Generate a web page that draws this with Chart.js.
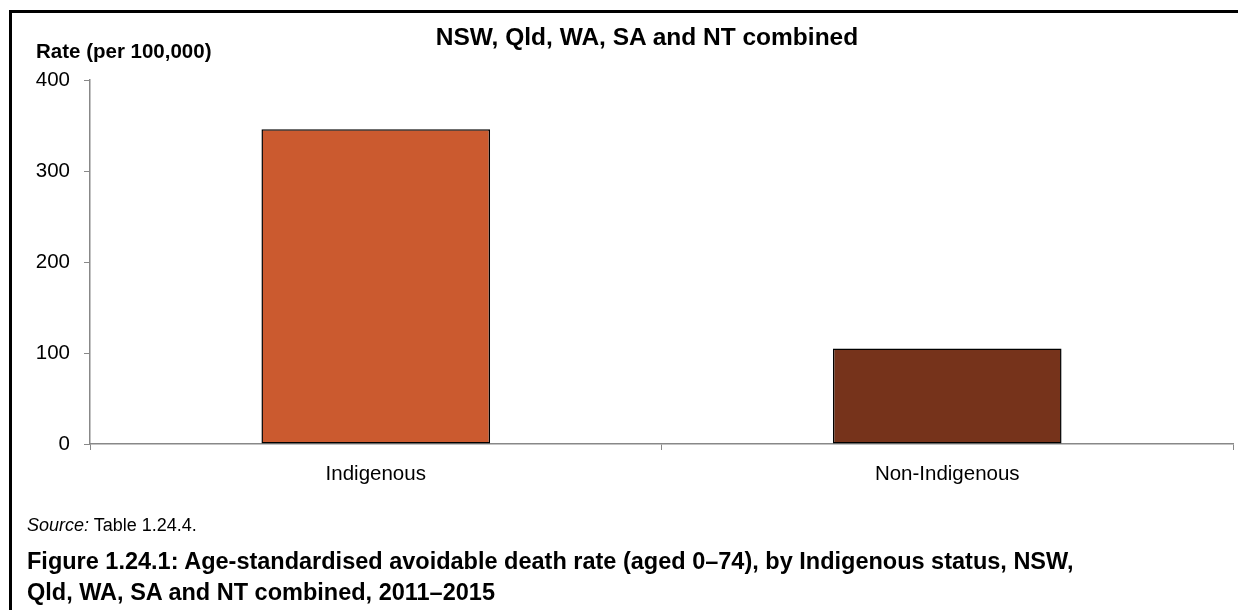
<!DOCTYPE html>
<html>
<head>
<meta charset="utf-8">
<script src="https://cdn.jsdelivr.net/npm/chart.js@4"></script>
<style>
  html, body { margin: 0; padding: 0; background: #fff; }
  #wrap { position: relative; width: 1238px; height: 610px; overflow: hidden; font-family: "Liberation Sans", Arial, sans-serif; }
  #frame { position: absolute; left: 9px; top: 10px; width: 1240px; height: 620px; border-top: 3px solid #000; border-left: 3px solid #000; }
  #c { position: absolute; left: 0; top: 0; }
  .txt { position: absolute; white-space: nowrap; color: #000; }
  #title { left: 0; width: 1294px; text-align: center; top: 25px; font-weight: bold; font-size: 24.5px; line-height: 24px; }
  #ytitle { left: 36px; top: 41px; font-weight: bold; font-size: 20.5px; line-height: 20px; }
  #source { left: 27px; top: 516px; font-size: 18px; line-height: 18px; }
  #caption { left: 27px; top: 546px; font-weight: bold; font-size: 23.5px; line-height: 31px; }
</style>
</head>
<body>
<div id="wrap">
  <canvas id="c" width="1238" height="610"></canvas>
  <div id="frame"></div>
  <div class="txt" id="title">NSW, Qld, WA, SA and NT combined</div>
  <div class="txt" id="ytitle">Rate (per 100,000)</div>
  <div class="txt" id="source"><i>Source:</i> Table 1.24.4.</div>
  <div class="txt" id="caption">Figure 1.24.1: Age-standardised avoidable death rate (aged 0–74), by Indigenous status, NSW,<br>Qld, WA, SA and NT combined, 2011–2015</div>
</div>
<script>
const categories = ["Indigenous", "Non-Indigenous"];
const rates = [346, 105];
const barColors = ["#CB5A2F", "#76331B"];
const yTicks = [0, 100, 200, 300, 400];

new Chart(document.getElementById("c"), {
  type: "bar",
  data: {
    labels: categories,
    datasets: [{
      data: rates,
      backgroundColor: barColors,
      borderColor: "#000",
      borderWidth: 1.5,
      borderSkipped: false,
      categoryPercentage: 0.8,
      barPercentage: 0.5
    }]
  },
  options: {
    responsive: false,
    animation: false,
    devicePixelRatio: 1,
    layout: { padding: { left: 0, right: 5, top: 80, bottom: 126 } },
    plugins: { legend: { display: false }, tooltip: { enabled: false }, title: { display: false } },
    scales: {
      x: {
        grid: { display: true, drawOnChartArea: false, drawTicks: true, tickLength: 6, color: "#888", offset: true },
        border: { display: true, color: "#888", width: 1.5 },
        ticks: { color: "#000", font: { family: "Liberation Sans", size: 20.5 }, padding: 12 },
        afterFit: s => { s.height = 40; }
      },
      y: {
        min: 0, max: 400,
        afterBuildTicks: s => { s.ticks = yTicks.map(v => ({ value: v })); },
        grid: { display: true, drawOnChartArea: false, drawTicks: true, tickLength: 6, color: "#888" },
        border: { display: true, color: "#888", width: 1.5 },
        ticks: { color: "#000", font: { family: "Liberation Sans", size: 20.5 }, padding: 14 },
        afterFit: s => { s.width = 90; }
      }
    }
  }
});
</script>
</body>
</html>
